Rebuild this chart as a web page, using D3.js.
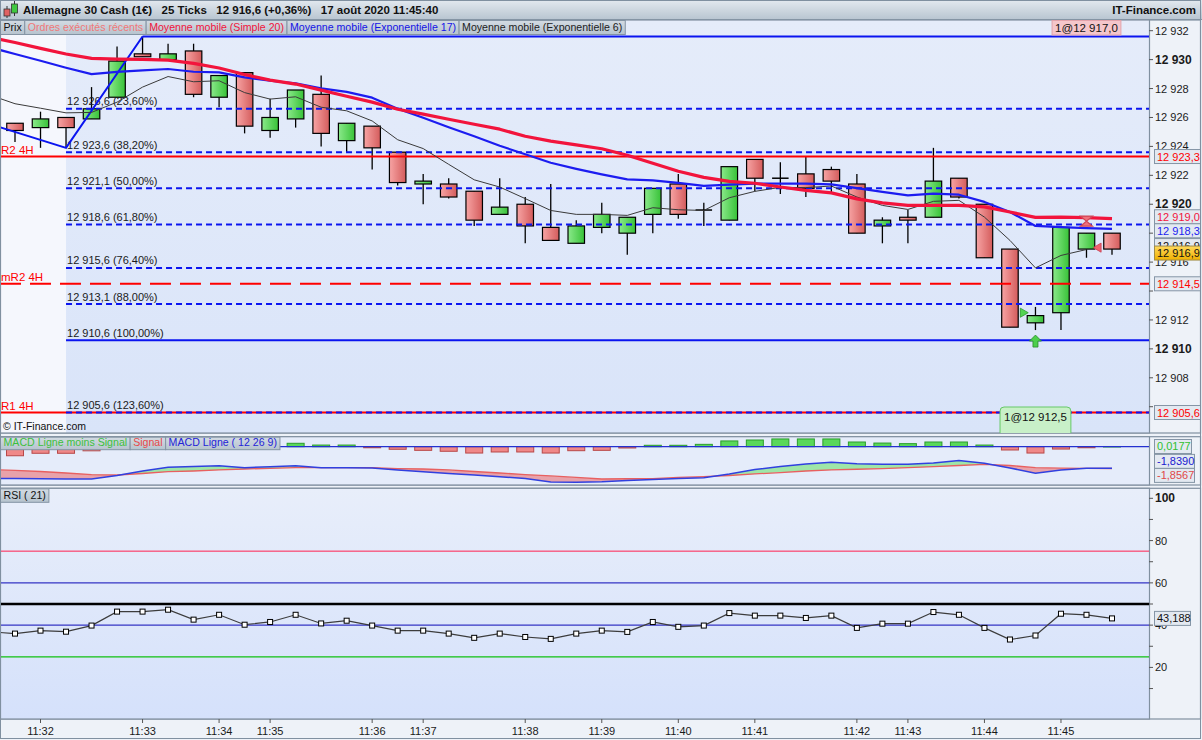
<!DOCTYPE html>
<html>
<head>
<meta charset="utf-8">
<title>Allemagne 30 Cash</title>
<script src="https://cdn.jsdelivr.net/npm/d3@7"></script>
<style>
  body { margin: 0; background: #eef2f8; }
  svg { display: block; }
</style>
</head>
<body>
<svg id="chart"></svg>
<script>
/* 44 bars of 25 ticks, bar 0 .. bar 43 */
var bars = d3.range(44);
var opens = [12925.6, 12925.3, 12926.0, 12925.9, 12927.4, 12930.4, 12930.0, 12930.6, 12927.4, 12929.1,
  12925.1, 12925.9, 12927.6, 12924.4, 12925.4, 12923.6, 12921.4, 12921.4, 12920.9, 12919.3,
  12920.0, 12918.4, 12917.3, 12918.4, 12918.0, 12919.3, 12921.4, 12919.6, 12918.9, 12923.1,
  12921.8, 12922.1, 12922.4, 12921.4, 12918.5, 12919.1, 12919.1, 12921.8, 12920.0, 12916.9,
  12911.8, 12912.5, 12916.9, 12918.0];
var highs = [12925.6, 12926.4, 12926.0, 12928.1, 12930.9, 12931.6, 12931.1, 12931.1, 12928.9, 12929.1,
  12927.3, 12927.9, 12928.9, 12925.6, 12925.4, 12923.6, 12922.1, 12921.8, 12920.9, 12921.8,
  12920.5, 12921.4, 12918.9, 12920.1, 12919.1, 12921.1, 12922.1, 12920.1, 12922.6, 12923.1,
  12922.9, 12923.3, 12922.6, 12922.1, 12919.1, 12919.6, 12923.9, 12921.8, 12920.0, 12916.9,
  12912.9, 12918.4, 12918.0, 12918.0];
var lows = [12924.3, 12923.9, 12923.9, 12925.9, 12927.4, 12930.2, 12930.0, 12927.4, 12926.7, 12924.9,
  12924.6, 12925.3, 12924.0, 12923.6, 12922.4, 12921.3, 12920.0, 12920.4, 12918.5, 12919.3,
  12917.3, 12917.5, 12917.3, 12918.0, 12916.5, 12918.0, 12919.0, 12918.5, 12918.9, 12920.9,
  12920.7, 12920.5, 12920.8, 12918.0, 12917.3, 12917.3, 12919.1, 12920.4, 12916.3, 12911.5,
  12911.3, 12911.3, 12916.3, 12916.5];
var closes = [12925.1, 12925.9, 12925.3, 12926.6, 12929.9, 12930.2, 12930.4, 12927.6, 12928.9, 12925.4,
  12926.0, 12927.9, 12924.9, 12925.6, 12923.9, 12921.5, 12921.6, 12920.5, 12918.9, 12919.8,
  12918.5, 12917.5, 12918.5, 12919.3, 12919.1, 12921.1, 12919.3, 12919.6, 12922.6, 12921.8,
  12921.8, 12921.1, 12921.6, 12918.0, 12918.9, 12918.9, 12921.6, 12920.5, 12916.3, 12911.5,
  12912.3, 12918.4, 12918.0, 12916.9];

/* indicator series start one bar earlier (bar -1, off the left edge) */
var ma20 = [12931.56, 12931.18, 12930.78, 12930.39, 12930.09, 12930.04, 12930.02, 12929.97, 12929.74, 12929.42,
  12928.97, 12928.58, 12928.31, 12927.89, 12927.47, 12927.06, 12926.57, 12926.23, 12925.88, 12925.53,
  12925.19, 12924.70, 12924.36, 12924.11, 12923.84, 12923.39, 12922.83, 12922.28, 12921.86, 12921.58,
  12921.45, 12921.19, 12920.96, 12920.79, 12920.37, 12920.09, 12919.92, 12919.92, 12919.92, 12919.82,
  12919.46, 12919.09, 12919.11, 12919.07, 12919.0];
var ema17 = [12930.86, 12930.39, 12929.92, 12929.44, 12929.0, 12929.15, 12929.26, 12929.35, 12929.16, 12929.12,
  12928.77, 12928.54, 12928.36, 12928.01, 12927.77, 12927.37, 12926.61, 12925.98, 12925.33, 12924.70,
  12924.04, 12923.46, 12922.87, 12922.45, 12922.07, 12921.72, 12921.65, 12921.48, 12921.27, 12921.36,
  12921.42, 12921.42, 12921.42, 12921.38, 12921.12, 12920.86, 12920.61, 12920.73, 12920.66, 12920.16,
  12919.46, 12918.50, 12918.42, 12918.35, 12918.3];
var ema6 = [12927.56, 12926.95, 12926.64, 12926.32, 12926.35, 12927.06, 12928.10, 12928.83, 12928.47, 12928.54,
  12927.72, 12927.27, 12927.43, 12926.71, 12926.46, 12925.76, 12924.46, 12923.85, 12922.76, 12921.69,
  12921.19, 12920.39, 12919.57, 12919.30, 12919.30, 12919.23, 12919.76, 12919.62, 12919.57, 12920.45,
  12920.89, 12921.17, 12921.15, 12921.26, 12920.50, 12919.92, 12919.64, 12920.20, 12920.27, 12919.11,
  12917.50, 12915.60, 12916.46, 12916.87];

var macdLine = [-2.70, -2.71, -2.72, -2.75, -2.75, -2.45, -2.07, -1.75, -1.69, -1.62,
  -1.79, -1.70, -1.62, -1.79, -1.79, -1.81, -1.98, -2.14, -2.28, -2.41,
  -2.56, -2.71, -3.00, -3.02, -2.98, -2.88, -2.79, -2.71, -2.64, -2.32,
  -1.94, -1.69, -1.47, -1.33, -1.45, -1.50, -1.50, -1.39, -1.17, -1.41,
  -1.81, -2.26, -1.98, -1.84, -1.839];
var macdSignal = [-1.95, -2.01, -2.11, -2.24, -2.37, -2.41, -2.28, -2.13, -2.07, -1.98,
  -1.90, -1.84, -1.79, -1.79, -1.79, -1.79, -1.86, -1.90, -1.98, -2.11,
  -2.24, -2.37, -2.49, -2.62, -2.75, -2.73, -2.71, -2.62, -2.55, -2.45,
  -2.32, -2.20, -2.07, -1.98, -1.92, -1.86, -1.79, -1.70, -1.60, -1.50,
  -1.60, -1.79, -1.83, -1.84, -1.8567];
var macdHist = [-0.77, -0.56, -0.56, -0.35, -0.05, 0.20, 0.35, 0.38, 0.36, 0.20,
  0.29, 0.29, 0.14, 0.14, -0.09, -0.22, -0.31, -0.39, -0.54, -0.45,
  -0.45, -0.54, -0.34, -0.31, -0.11, 0.12, 0.12, 0.20, 0.49, 0.57,
  0.66, 0.66, 0.66, 0.40, 0.31, 0.26, 0.40, 0.40, 0.14, -0.28,
  -0.54, -0.20, -0.09, 0.0177];

var rsi = [36.9, 36.0, 37.4, 36.9, 39.8, 46.4, 46.4, 47.3, 42.6, 44.9,
  40.2, 41.5, 44.9, 40.8, 42.1, 39.8, 37.4, 37.4, 36.0, 34.0,
  36.0, 34.4, 33.5, 36.0, 37.4, 36.8, 41.5, 39.2, 39.8, 45.7,
  44.5, 44.5, 43.4, 44.5, 38.7, 40.7, 40.7, 46.2, 44.9, 38.7,
  33.2, 35.1, 45.4, 44.9, 43.188];
var rsiLevels = [75, 60, 50, 40, 25];

var fibPrices = [12931.6, 12926.6, 12923.6, 12921.1, 12918.6, 12915.6, 12913.1, 12910.6, 12905.6];
var fibPercents = ['0,00%', '23,60%', '38,20%', '50,00%', '61,80%', '76,40%', '88,00%', '100,00%', '123,60%'];
var zigzagBars = [-1, 2, 5];
var zigzagPrices = [12925.55, 12923.9, 12931.6];

var pivotNames = ['R2 4H', 'mR2 4H', 'R1 4H'];
var pivotPrices = [12923.3, 12914.5, 12905.6];

var orderBars = [40, 42];
var orderPrices = [12912.5, 12917.0];
var orderTexts = ['1@12 912,5', '1@12 917,0'];

var tickBars = [1, 5, 8, 10, 14, 16, 20, 23, 26, 29, 33, 35, 38, 41];
var tickLabels = ['11:32', '11:33', '11:34', '11:35', '11:36', '11:37', '11:38', '11:39',
  '11:40', '11:41', '11:42', '11:43', '11:44', '11:45'];
var priceTicks = d3.range(12906, 12933, 2);
var rsiTicks = d3.range(10, 101, 10);

var headerTexts = ['Allemagne 30 Cash (1€)', '25 Ticks', '12 916,6 (+0,36%)', '17 août 2020 11:45:40'];
var siteName = 'IT-Finance.com';
var copyright = '© IT-Finance.com';
var legendMain = ['Prix', 'Ordres exécutés récents', 'Moyenne mobile (Simple 20)',
  'Moyenne mobile (Exponentielle 17)', 'Moyenne mobile (Exponentielle 6)'];
var legendMacd = ['MACD Ligne moins Signal', 'Signal', 'MACD Ligne ( 12 26 9)'];
var legendRsi = ['RSI ( 21)'];

var Chart = {
    W: 1202,
    H: 740,
    /*right edge of the plotting area*/
    plotR: 1149,
    main: {top: 20, bottom: 433},
    macd: {top: 436.7, bottom: 485},
    rsiP: {top: 488.3, bottom: 719},

    init: function() {
        this.svg = d3.select('#chart')
            .attr('width', this.W)
            .attr('height', this.H)
            .attr('font-family', '"Liberation Sans", Arial, sans-serif');
        this.x = d3.scaleLinear().domain([0, 43]).range([15, 1112]);
        this.y = d3.scaleLinear().domain([12932, 12905.6]).range([30.7, 412.5]);
        this.ym = d3.scaleLinear().domain([0, -1.839]).range([446.7, 468.3]);
        this.yr = d3.scaleLinear().domain([100, 50]).range([498.3, 604]);
        this.makeDefs();
        this.drawPanels();
        this.drawMain();
        this.drawMacd();
        this.drawRsi();
        this.drawTimeAxis();
        this.drawHeader();
        this.svg.append('rect').attr('x', 0.5).attr('y', 0.5).attr('width', 1200).attr('height', 738)
            .attr('fill', 'none').attr('stroke', '#8090a0');
    },

    /*12923.3 -> "12 923,3"*/
    fmt: function(v, dec) {
        var s = v.toFixed(dec).split('.');
        var ip = s[0].replace(/\B(?=(\d{3})+(?!\d))/g, ' ');
        return s.length > 1 ? ip + ',' + s[1] : ip;
    },

    makeDefs: function() {
        var defs = this.svg.append('defs');
        function grad(id, c1, c2, vertical) {
            var g = defs.append('linearGradient').attr('id', id)
                .attr('x1', 0).attr('y1', 0).attr('x2', vertical ? 0 : 1).attr('y2', vertical ? 1 : 0);
            g.append('stop').attr('offset', '0%').attr('stop-color', c1);
            g.append('stop').attr('offset', '100%').attr('stop-color', c2);
        }
        grad('gUp', '#8ae98a', '#38c238', false);
        grad('gDown', '#f7a4a4', '#d45c5c', false);
        grad('gMain', '#e5ecfa', '#d9e4f9', true);
        grad('gRsi', '#e8eefa', '#d5e1fb', true);
        grad('gHead', '#e3e9ef', '#b8c5d1', true);
        grad('gLeg', '#d3dbe3', '#b6c3ce', true);
        grad('gGold', '#ffd95c', '#efb100', true);
        var self = this;
        [['clipMain', this.main], ['clipMacd', this.macd], ['clipRsi', this.rsiP]].forEach(function(c) {
            defs.append('clipPath').attr('id', c[0]).append('rect')
                .attr('x', 0).attr('y', c[1].top).attr('width', self.plotR).attr('height', c[1].bottom - c[1].top);
        });
    },

    /*Panel frames and backgrounds*/
    drawPanels: function() {
        var svg = this.svg, self = this;
        svg.append('rect').attr('width', this.W).attr('height', this.H).attr('fill', '#eef2f8');
        [this.main, this.macd, this.rsiP].forEach(function(p) {
            svg.append('rect').attr('x', 0.5).attr('y', p.top).attr('width', 1200).attr('height', p.bottom - p.top)
                .attr('fill', '#eef2f8').attr('stroke', '#8090a0').attr('stroke-width', 1.2);
        });
        svg.append('rect').attr('x', 0.5).attr('y', this.main.top).attr('width', this.plotR).attr('height', this.main.bottom - this.main.top)
            .attr('fill', '#f5f7fd');
        svg.append('rect').attr('x', this.x(2)).attr('y', this.main.top).attr('width', this.plotR - this.x(2)).attr('height', this.main.bottom - this.main.top)
            .attr('fill', 'url(#gMain)');
        svg.append('rect').attr('x', 0.5).attr('y', this.macd.top).attr('width', this.plotR).attr('height', this.macd.bottom - this.macd.top)
            .attr('fill', '#e5ecfa');
        svg.append('rect').attr('x', 0.5).attr('y', this.rsiP.top).attr('width', this.plotR).attr('height', this.rsiP.bottom - this.rsiP.top)
            .attr('fill', 'url(#gRsi)');
        [this.main, this.macd, this.rsiP].forEach(function(p) {
            svg.append('rect').attr('x', 0.5).attr('y', p.top).attr('width', self.plotR).attr('height', p.bottom - p.top)
                .attr('fill', 'none').attr('stroke', '#8090a0').attr('stroke-width', 1.2);
        });
    },

    /*Labelled boxes in a row (legends)*/
    legend: function(g, items, colors, y0, h, fs) {
        var xPos = 0.5;
        items.forEach(function(t, k) {
            var grp = g.append('g');
            var txt = grp.append('text').attr('x', xPos + 3).attr('y', y0 + h - 3.3)
                .attr('font-size', fs).attr('fill', colors[k]).text(t);
            var w = txt.node().getComputedTextLength() + 6;
            grp.insert('rect', 'text').attr('x', xPos).attr('y', y0).attr('width', w).attr('height', h)
                .attr('fill', 'url(#gLeg)').attr('stroke', '#8494a4');
            xPos += w;
        });
    },

    /*Value boxes on the right axis, pushed apart when they collide*/
    valueBoxes: function(g, items) {
        items.forEach(function(d, k) { d.k = k; });
        var s = items.slice().sort(function(a, b) {
            return Math.abs(a.y - b.y) < 0.5 ? a.k - b.k : a.y - b.y;
        });
        for (var it = 0; it < 40; it++) {
            for (var i = 1; i < s.length; i++) {
                var a = s[i - 1], b = s[i];
                var minD = (a.under || b.under) ? 7.5 : 14;
                var d = b.y - a.y;
                if (d < minD) { a.y -= (minD - d) / 2; b.y += (minD - d) / 2; }
            }
        }
        items.forEach(function(d) {
            g.append('rect').attr('x', 1154.5).attr('y', d.y - 7).attr('width', d.w || 46).attr('height', 14)
                .attr('fill', d.gold ? 'url(#gGold)' : '#e3e9f1')
                .attr('stroke', d.gold ? '#a08c48' : '#8595a6');
            g.append('text').attr('x', 1157).attr('y', d.y + 4).attr('font-size', 11)
                .attr('fill', d.color).text(d.text);
        });
        return items;
    },

    drawMain: function() {
        var x = this.x, y = this.y, self = this;
        var g = this.svg.append('g').attr('clip-path', 'url(#clipMain)');
        var bw = 16.5;

        /*candles*/
        var c = g.selectAll('g.bar').data(bars).enter().append('g').attr('class', 'bar');
        c.append('line')
            .attr('x1', function(i) { return x(i); }).attr('x2', function(i) { return x(i); })
            .attr('y1', function(i) { return y(highs[i]); }).attr('y2', function(i) { return y(lows[i]); })
            .attr('stroke', '#000').attr('stroke-width', 1.3);
        c.filter(function(i) { return opens[i] !== closes[i]; }).append('rect')
            .attr('x', function(i) { return x(i) - bw / 2; })
            .attr('width', bw)
            .attr('y', function(i) { return y(Math.max(opens[i], closes[i])); })
            .attr('height', function(i) { return Math.max(1, Math.abs(y(opens[i]) - y(closes[i]))); })
            .attr('fill', function(i) { return closes[i] > opens[i] ? 'url(#gUp)' : 'url(#gDown)'; })
            .attr('stroke', '#000').attr('stroke-width', 1.2);
        c.filter(function(i) { return opens[i] === closes[i]; }).append('line')
            .attr('x1', function(i) { return x(i) - bw / 2; }).attr('x2', function(i) { return x(i) + bw / 2; })
            .attr('y1', function(i) { return y(opens[i]); }).attr('y2', function(i) { return y(opens[i]); })
            .attr('stroke', '#000').attr('stroke-width', 1.5);

        /*pivot lines*/
        pivotPrices.forEach(function(p, k) {
            g.append('line').attr('x1', 0).attr('x2', self.plotR).attr('y1', y(p)).attr('y2', y(p))
                .attr('stroke', '#ff0000').attr('stroke-width', 2)
                .attr('stroke-dasharray', k === 1 ? '21,9' : null);
            g.append('text').attr('x', 1).attr('y', y(p) - 3).attr('font-size', 11.5)
                .attr('fill', '#ff0000').text(pivotNames[k]);
        });

        /*fibonacci levels (the 0% label sits under the legend, so it is left out)*/
        fibPrices.forEach(function(p, k) {
            var solid = (k === 0 || k === 7);
            g.append('line').attr('x1', k === 0 ? x(5) : x(2)).attr('x2', self.plotR)
                .attr('y1', y(p)).attr('y2', y(p))
                .attr('stroke', '#0a14f0').attr('stroke-width', 2)
                .attr('stroke-dasharray', solid ? null : '6,4');
            if (k > 0) {
                g.append('text').attr('x', x(2) + 1).attr('y', y(p) - 3.5).attr('font-size', 11)
                    .attr('fill', '#1a1a1a').text(self.fmt(p, 1) + ' (' + fibPercents[k] + ')');
            }
        });
        g.append('path')
            .datum(d3.range(zigzagBars.length))
            .attr('d', d3.line().x(function(k) { return x(zigzagBars[k]); }).y(function(k) { return y(zigzagPrices[k]); }))
            .attr('fill', 'none').attr('stroke', '#0a14f0').attr('stroke-width', 2);

        /*moving averages*/
        function maLine(arr, color, w) {
            g.append('path').datum(d3.range(arr.length))
                .attr('d', d3.line().x(function(k) { return x(k - 1); }).y(function(k) { return y(arr[k]); }))
                .attr('fill', 'none').attr('stroke', color).attr('stroke-width', w)
                .attr('stroke-linejoin', 'round');
        }
        maLine(ema6, '#3a3a3a', 1);
        maLine(ema17, '#1c1cf0', 2.2);
        maLine(ma20, '#f2143c', 3.2);

        /*executed orders*/
        var buy = orderBars[0], sell = orderBars[1];
        g.append('path').attr('d', d3.symbol().type(d3.symbolTriangle).size(36))
            .attr('transform', 'translate(' + (x(buy) - 12.5) + ',' + y(orderPrices[0]) + ') rotate(90)')
            .attr('fill', '#52d452').attr('stroke', '#2a9a2a').attr('stroke-width', 0.8);
        g.append('path').attr('d', 'M0,0 L6,6 L2.5,6 L2.5,12 L-2.5,12 L-2.5,6 L-6,6 Z')
            .attr('transform', 'translate(' + x(buy) + ',' + (y(lows[buy]) + 5) + ')')
            .attr('fill', '#4ccf4c').attr('stroke', '#2a8a2a').attr('stroke-width', 0.8);
        g.append('path').attr('d', d3.symbol().type(d3.symbolTriangle).size(36))
            .attr('transform', 'translate(' + (x(sell) + 12) + ',' + y(orderPrices[1]) + ') rotate(-90)')
            .attr('fill', '#f0606e').attr('stroke', '#c84050').attr('stroke-width', 0.8);
        g.append('path').attr('d', 'M-6,-5 L6,-5 L-6,5 L6,5 Z')
            .attr('transform', 'translate(' + x(sell) + ',' + (y(highs[sell]) - 12) + ')')
            .attr('fill', '#f0707c').attr('stroke', '#d04858').attr('stroke-width', 1.2);

        /*order boxes*/
        var bb = g.append('g');
        var t1 = bb.append('text').attr('x', x(buy)).attr('y', 420.5).attr('text-anchor', 'middle')
            .attr('font-size', 11.5).attr('fill', '#111').text(orderTexts[0]);
        var w1 = t1.node().getComputedTextLength() + 8;
        bb.insert('rect', 'text').attr('x', x(buy) - w1 / 2).attr('y', 407).attr('width', w1).attr('height', 32)
            .attr('rx', 4).attr('fill', '#c8f0c8').attr('stroke', '#66c866');
        var tb = this.svg.append('g');
        var t2 = tb.append('text').attr('x', x(sell)).attr('y', 32).attr('text-anchor', 'middle')
            .attr('font-size', 11.5).attr('fill', '#111').text(orderTexts[1]);
        var w2 = t2.node().getComputedTextLength() + 6;
        tb.insert('rect', 'text').attr('x', x(sell) - w2 / 2).attr('y', 20.5).attr('width', w2).attr('height', 14.5)
            .attr('fill', '#f5c6cb').attr('stroke', '#e2a2aa');

        g.append('text').attr('x', 3).attr('y', 430).attr('font-size', 10.5).attr('fill', '#111').text(copyright);

        /*price axis: value boxes are placed first, tick labels fully covered by them are skipped*/
        var ax = this.svg.append('g');
        var boxG = this.svg.append('g');
        var last = closes[43];
        var items = this.valueBoxes(boxG, [
            {y: y(pivotPrices[0]), text: this.fmt(pivotPrices[0], 1), color: '#ff0000'},
            {y: y(ma20[44]), text: this.fmt(ma20[44], 1), color: '#f2143c'},
            {y: y(ema17[44]), text: this.fmt(ema17[44], 1), color: '#1c1cf0'},
            {y: y(ema6[43]), text: this.fmt(ema6[43], 1), color: '#111', under: true},
            {y: y(last), text: this.fmt(last, 1), color: '#111', gold: true},
            {y: y(pivotPrices[1]), text: this.fmt(pivotPrices[1], 1), color: '#ff0000'},
            {y: y(pivotPrices[2]), text: this.fmt(pivotPrices[2], 1), color: '#ff0000'}
        ]);
        priceTicks.forEach(function(p) {
            ax.append('line').attr('x1', self.plotR).attr('x2', self.plotR + 4).attr('y1', y(p)).attr('y2', y(p))
                .attr('stroke', '#555');
            var covered = items.some(function(d) { return Math.abs(d.y - y(p)) < 8; });
            if (covered) return;
            ax.append('text').attr('x', self.plotR + 6).attr('y', y(p) + 4)
                .attr('font-size', p % 10 === 0 ? 12 : 11)
                .attr('font-weight', p % 10 === 0 ? 'bold' : null)
                .attr('fill', '#1a1a1a').text(self.fmt(p, 0));
        });

        this.legend(this.svg.append('g'), legendMain, ['#111', '#f07878', '#f2143c', '#1414e6', '#222'], 20.5, 14, 10.6);
    },

    drawMacd: function() {
        var x = this.x, ym = this.ym;
        var g = this.svg.append('g').attr('clip-path', 'url(#clipMacd)');
        var idx = d3.range(macdLine.length);
        var top = this.macd.top, bottom = this.macd.bottom;
        var defs = this.svg.select('defs');
        defs.append('clipPath').attr('id', 'aboveSig').append('path')
            .attr('d', d3.area().x(function(k) { return x(k - 1); }).y0(top).y1(function(k) { return ym(macdSignal[k]); })(idx));
        defs.append('clipPath').attr('id', 'belowSig').append('path')
            .attr('d', d3.area().x(function(k) { return x(k - 1); }).y0(function(k) { return ym(macdSignal[k]); }).y1(bottom)(idx));

        /*histogram*/
        g.selectAll('rect.h').data(bars).enter().append('rect')
            .attr('x', function(i) { return x(i) - 8.5; })
            .attr('width', 17)
            .attr('y', function(i) { return Math.min(ym(0), ym(macdHist[i])); })
            .attr('height', function(i) { return Math.max(0.5, Math.abs(ym(macdHist[i]) - ym(0))); })
            .attr('fill', function(i) { return macdHist[i] >= 0 ? '#5ad85a' : '#f08888'; })
            .attr('stroke', function(i) { return macdHist[i] >= 0 ? '#2c9c2c' : '#b84848'; })
            .attr('stroke-width', 1);
        g.append('line').attr('x1', 0).attr('x2', this.plotR).attr('y1', ym(0)).attr('y2', ym(0))
            .attr('stroke', '#2430d0').attr('stroke-width', 1.2);

        var band = d3.area().x(function(k) { return x(k - 1); })
            .y0(function(k) { return ym(macdSignal[k]); }).y1(function(k) { return ym(macdLine[k]); });
        g.append('path').datum(idx).attr('d', band).attr('fill', '#9ee6a8').attr('clip-path', 'url(#aboveSig)');
        g.append('path').datum(idx).attr('d', band).attr('fill', '#e8a2aa').attr('clip-path', 'url(#belowSig)');
        g.append('path').datum(idx)
            .attr('d', d3.line().x(function(k) { return x(k - 1); }).y(function(k) { return ym(macdSignal[k]); }))
            .attr('fill', 'none').attr('stroke', '#e86060').attr('stroke-width', 1.3);
        g.append('path').datum(idx)
            .attr('d', d3.line().x(function(k) { return x(k - 1); }).y(function(k) { return ym(macdLine[k]); }))
            .attr('fill', 'none').attr('stroke', '#3040e0').attr('stroke-width', 1.5);

        this.legend(this.svg.append('g'), legendMacd, ['#3cc03c', '#e84848', '#2424d8'], top + 0.5, 12.5, 10.6);

        var n = macdLine.length - 1;
        this.valueBoxes(this.svg.append('g'), [
            {y: ym(macdHist[43]), text: this.fmt(macdHist[43], 4), color: '#30c030', w: 37},
            {y: ym(macdLine[n]), text: this.fmt(macdLine[n], 4), color: '#2020d0', w: 40},
            {y: ym(macdSignal[n]), text: this.fmt(macdSignal[n], 4), color: '#e04848', w: 40}
        ]);
    },

    drawRsi: function() {
        var x = this.x, yr = this.yr, self = this;
        var g = this.svg.append('g').attr('clip-path', 'url(#clipRsi)');
        var levelStyle = [['#ff2050', 1], ['#3434c4', 1.2], ['#000', 2.6], ['#3434c4', 1.2], ['#10c010', 1.3]];
        rsiLevels.forEach(function(v, k) {
            g.append('line').attr('x1', 0).attr('x2', self.plotR).attr('y1', yr(v)).attr('y2', yr(v))
                .attr('stroke', levelStyle[k][0]).attr('stroke-width', levelStyle[k][1]);
        });
        g.append('path').datum(d3.range(rsi.length))
            .attr('d', d3.line().x(function(k) { return x(k - 1); }).y(function(k) { return yr(rsi[k]); }))
            .attr('fill', 'none').attr('stroke', '#3c3c3c').attr('stroke-width', 1.2);
        g.selectAll('rect.pt').data(bars).enter().append('rect')
            .attr('x', function(i) { return x(i) - 2.5; })
            .attr('y', function(i) { return yr(rsi[i + 1]) - 2.5; })
            .attr('width', 5).attr('height', 5)
            .attr('fill', '#fff').attr('stroke', '#000').attr('stroke-width', 1);

        this.legend(this.svg.append('g'), legendRsi, ['#111'], this.rsiP.top + 0.5, 13.5, 10.6);

        var ax = this.svg.append('g');
        rsiTicks.forEach(function(v) {
            ax.append('line').attr('x1', self.plotR).attr('x2', self.plotR + 4).attr('y1', yr(v)).attr('y2', yr(v))
                .attr('stroke', '#555');
            if (v % 20 === 0) {
                ax.append('text').attr('x', self.plotR + 6).attr('y', yr(v) + 4)
                    .attr('font-size', v === 100 ? 12 : 11).attr('font-weight', v === 100 ? 'bold' : null)
                    .attr('fill', '#1a1a1a').text(v);
            }
        });
        var lastR = rsi[rsi.length - 1];
        this.valueBoxes(ax, [{y: yr(lastR), text: lastR.toFixed(3).replace('.', ','), color: '#111', w: 36}]);
    },

    drawTimeAxis: function() {
        var x = this.x, g = this.svg.append('g'), b = this.rsiP.bottom;
        tickBars.forEach(function(i, k) {
            g.append('line').attr('x1', x(i)).attr('x2', x(i)).attr('y1', b).attr('y2', b + 4).attr('stroke', '#555');
            g.append('text').attr('x', x(i)).attr('y', b + 16).attr('text-anchor', 'middle')
                .attr('font-size', 11).attr('fill', '#1a1a1a').text(tickLabels[k]);
        });
    },

    drawHeader: function() {
        var g = this.svg.append('g');
        g.append('rect').attr('x', 0).attr('y', 0).attr('width', this.W).attr('height', 19.5).attr('fill', 'url(#gHead)');
        g.append('line').attr('x1', 0).attr('x2', this.W).attr('y1', 19.5).attr('y2', 19.5).attr('stroke', '#8494a4');
        /*little candle icon*/
        g.append('line').attr('x1', 7).attr('x2', 7).attr('y1', 6).attr('y2', 18).attr('stroke', '#333');
        g.append('rect').attr('x', 4).attr('y', 9).attr('width', 6).attr('height', 7)
            .attr('fill', '#e06262').attr('stroke', '#333').attr('stroke-width', 0.8);
        g.append('line').attr('x1', 14.5).attr('x2', 14.5).attr('y1', 1).attr('y2', 16).attr('stroke', '#333');
        g.append('rect').attr('x', 11.5).attr('y', 4).attr('width', 6).attr('height', 9)
            .attr('fill', '#40c840').attr('stroke', '#333').attr('stroke-width', 0.8);
        var xPos = 23;
        headerTexts.forEach(function(t) {
            var tx = g.append('text').attr('x', xPos).attr('y', 14).attr('font-size', 11.5)
                .attr('font-weight', 'bold').attr('fill', '#111').text(t);
            xPos += tx.node().getComputedTextLength() + 9.5;
        });
        g.append('text').attr('x', 1196).attr('y', 14).attr('text-anchor', 'end').attr('font-size', 11.5)
            .attr('font-weight', 'bold').attr('fill', '#111').text(siteName);
    }
};

Chart.init();
</script>
</body>
</html>
